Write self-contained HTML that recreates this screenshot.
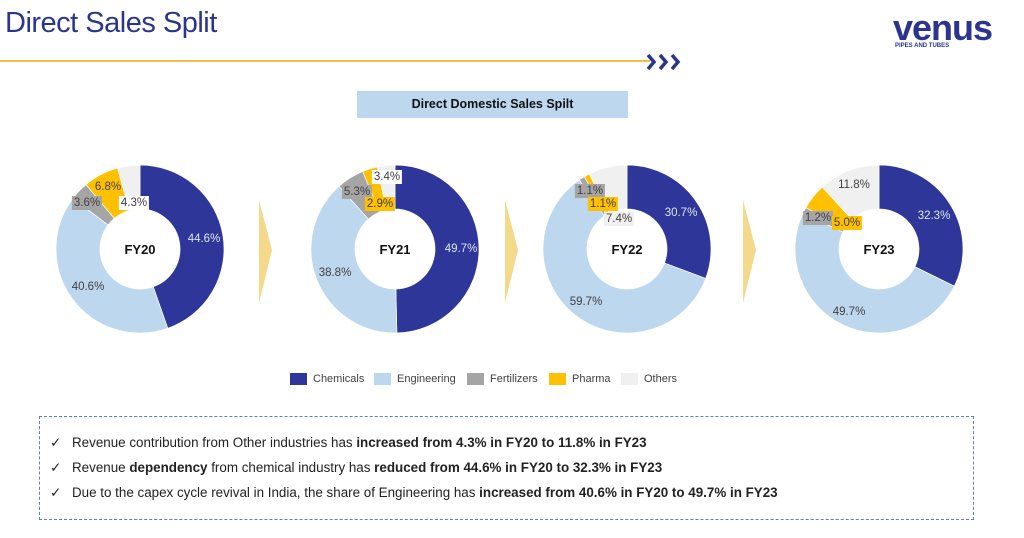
<!DOCTYPE html>
<html><head><meta charset="utf-8"><style>
body{margin:0;width:1024px;height:538px;background:#fff;position:relative;overflow:hidden;font-family:"Liberation Sans",sans-serif}
.t{position:absolute;left:5px;top:7px;font-size:29px;color:#2b3590;letter-spacing:-0.5px}
.lb{position:absolute;transform:translate(-50%,-50%);font-size:11.5px;color:#404040;padding:0 2px;line-height:14px;white-space:nowrap}
.w{color:#dfe6f5}
.leg{position:absolute;top:373px;font-size:11px;color:#404040;display:flex;align-items:center}
.leg i{display:inline-block;width:17px;height:12px;margin-right:6px}
.box{position:absolute;left:39px;top:416px;width:935px;height:104px;border:1px dashed #5b7fbf;box-sizing:border-box}
.ln{position:absolute;left:10px;font-size:13.4px;color:#222;white-space:nowrap}
.ln span.ck{position:absolute;left:0}
.ln span.tx{position:absolute;left:22px}
</style></head><body>
<div class="t">Direct Sales Split</div>
<div style="position:absolute;left:0;top:60px;width:650px;height:2px;background:#f2be4a"></div>
<svg style="position:absolute;left:645px;top:53px" width="50" height="18"><g fill="none" stroke="#2b3590" stroke-width="3.5"><path d="M3 2 L9 9 L3 16"/><path d="M15 2 L21 9 L15 16"/><path d="M27 2 L33 9 L27 16"/></g></svg>
<div style="position:absolute;left:893px;top:10px;font-size:36px;color:#2b3590;font-weight:bold;letter-spacing:-1px;line-height:36px">venus</div>
<div style="position:absolute;left:895px;top:43px;font-size:6px;color:#2b3590;font-weight:bold">PIPES AND TUBES</div>
<div style="position:absolute;left:357px;top:91px;width:271px;height:27px;background:#bdd7ee;font-size:12.5px;font-weight:bold;text-align:center;line-height:27px;color:#111">Direct Domestic Sales Spilt</div>
<svg id="s" style="position:absolute;left:0;top:0" width="1024" height="538"></svg>
<div id="L"></div>
<div class="leg" style="left:290px"><i style="background:#2e3799"></i>Chemicals</div>
<div class="leg" style="left:374px"><i style="background:#bdd7ee"></i>Engineering</div>
<div class="leg" style="left:467px"><i style="background:#a5a5a5"></i>Fertilizers</div>
<div class="leg" style="left:549px"><i style="background:#ffc000"></i>Pharma</div>
<div class="leg" style="left:621px"><i style="background:#f0f0f0"></i>Others</div>
<div class="box">
<div class="ln" style="top:18px"><span class="ck">✓</span><span class="tx">Revenue contribution from Other industries has <b>increased from 4.3% in FY20 to 11.8% in FY23</b></span></div>
<div class="ln" style="top:43px"><span class="ck">✓</span><span class="tx">Revenue <b>dependency</b> from chemical industry has <b>reduced from 44.6% in FY20 to 32.3% in FY23</b></span></div>
<div class="ln" style="top:68px"><span class="ck">✓</span><span class="tx">Due to the capex cycle revival in India, the share of Engineering has <b>increased from 40.6% in FY20 to 49.7% in FY23</b></span></div>
</div>
<script>
var cols=["#2e3799","#bdd7ee","#a5a5a5","#ffc000","#f0f0f0"];
var D=[[140,249,[44.6,40.6,3.6,6.8,4.3],"FY20"],[395,249,[49.7,38.8,5.3,2.9,3.4],"FY21"],[627,249,[30.7,59.7,1.1,1.1,7.4],"FY22"],[879,249,[32.3,49.7,1.2,5.0,11.8],"FY23"]];
var s=document.getElementById("s"),h="",R=84,r=40;
D.forEach(function(d){var tot=d[2].reduce(function(a,b){return a+b}),a=0;
d[2].forEach(function(v,i){var a0=a/tot*2*Math.PI,a1=(a+v)/tot*2*Math.PI;a+=v;
function p(rr,t){return [d[0]+rr*Math.sin(t),d[1]-rr*Math.cos(t)]}
var A=p(R,a0),B=p(R,a1),C=p(r,a1),E=p(r,a0),lg=(a1-a0)>Math.PI?1:0;
h+='<path fill="'+cols[i]+'" stroke="#fff" stroke-width="0.7" d="M'+A+' A'+R+' '+R+' 0 '+lg+' 1 '+B+' L'+C+' A'+r+' '+r+' 0 '+lg+' 0 '+E+'Z"/>';});
h+='<text x="'+d[0]+'" y="'+(d[1]+5)+'" text-anchor="middle" font-size="13" font-weight="bold" font-family="Liberation Sans,sans-serif" fill="#111">'+d[3]+'</text>';});
[[259,200],[505,200],[743,200]].forEach(function(q){h+='<path fill="#f5d98a" d="M'+q[0]+' '+q[1]+' L'+(q[0]+13)+' '+(q[1]+50)+' L'+q[0]+' '+(q[1]+103)+'Z"/>'});
s.innerHTML=h;
var L=[[204,239,"44.6%","w",""],[88,287,"40.6%","",""],[87,203,"3.6%","","#a5a5a5"],[108,187,"6.8%","",""],[134,203,"4.3%","","#fff"],
[461,249,"49.7%","w",""],[335,273,"38.8%","",""],[357,192,"5.3%","","#a5a5a5"],[380,204,"2.9%","","#ffc000"],[387,177,"3.4%","","#fff"],
[681,213,"30.7%","w",""],[586,302,"59.7%","",""],[590,191,"1.1%","","#a5a5a5"],[603,204,"1.1%","","#ffc000"],[619,219,"7.4%","","#f0f0f0"],
[934,216,"32.3%","w",""],[849,312,"49.7%","",""],[854,185,"11.8%","",""],[818,218,"1.2%","","#a5a5a5"],[847,223,"5.0%","","#ffc000"]];
var o="";L.forEach(function(l){o+='<div class="lb '+l[3]+'" style="left:'+l[0]+'px;top:'+l[1]+'px;'+(l[4]?'background:'+l[4]:'')+'">'+l[2]+'</div>'});
document.getElementById("L").innerHTML=o;
</script>
</body></html>
